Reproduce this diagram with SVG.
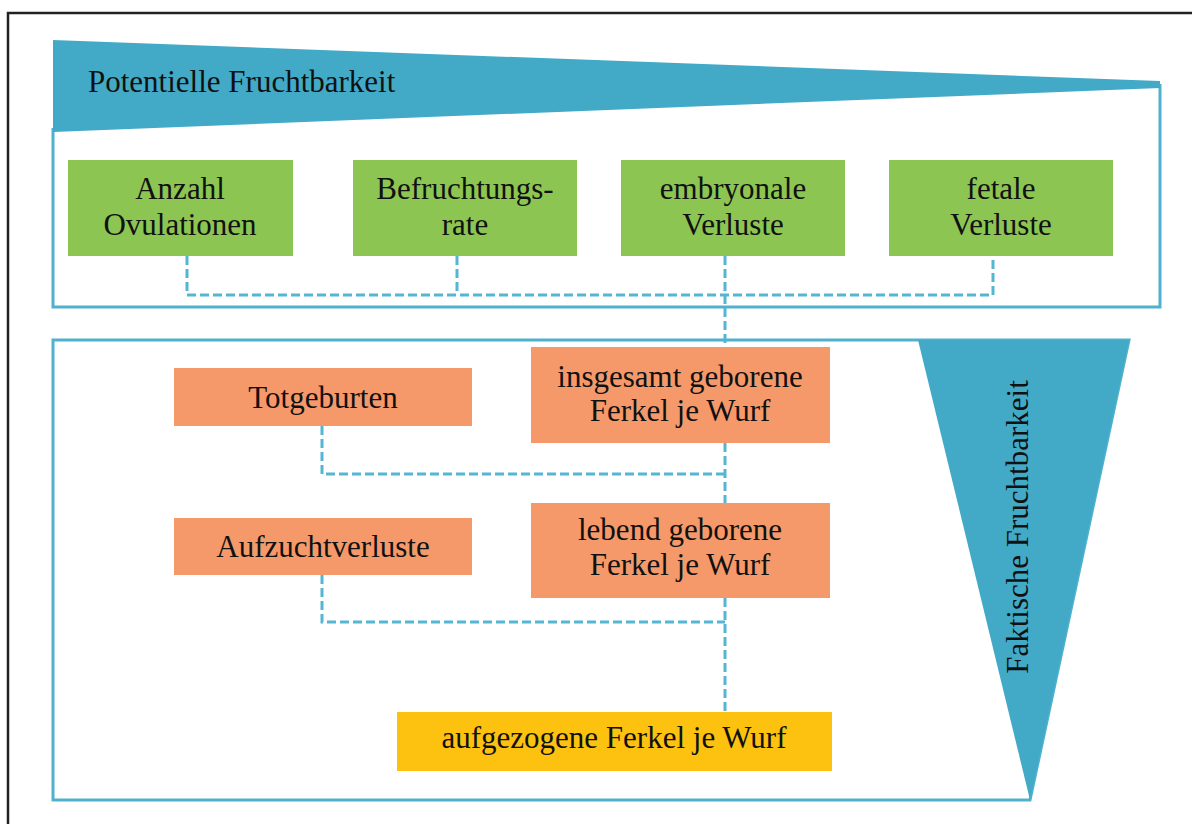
<svg xmlns="http://www.w3.org/2000/svg" width="1192" height="824" viewBox="0 0 1192 824">
<style>
text{font-family:"Liberation Serif","Times New Roman",serif;font-size:31px;fill:#111;text-anchor:middle}
.frame{fill:none;stroke:#4FB1CE;stroke-width:3}
.band{fill:#42AAC7}
.green{fill:#8CC552}
.orange{fill:#F5996A}
.yellow{fill:#FDC210}
.conn path{fill:none;stroke:#55B5D2;stroke-width:3;stroke-dasharray:9 4}
</style>
<rect x="0" y="0" width="1192" height="824" fill="#fff"/>
<path d="M8,830 L8,13 L1200,13" fill="none" stroke="#222" stroke-width="2.5"/>

<g id="top-frame">
<path class="frame" d="M1160,84 L1160,307 L53,307 L53,128"/>
<polygon class="band" points="53,40 1160,81 1160,88 53,132"/>
<text x="88" y="92" style="text-anchor:start">Potentielle Fruchtbarkeit</text>
</g>

<g id="bottom-frame">
<polygon class="frame" points="53,340 1129,340 1030,800 53,800"/>
<polygon class="band" points="918,340 1129,340 1030,800"/>
<text transform="translate(1028,527) rotate(-90)" x="0" y="0">Faktische Fruchtbarkeit</text>
</g>

<g class="conn" id="connectors">
<path d="M187,256 L187,295 L993,295 L993,256"/>
<path d="M457,256 L457,295"/>
<path d="M725,256 L725,347"/>
<path d="M322,426 L322,474 L725,474"/>
<path d="M725,443 L725,503"/>
<path d="M322,575 L322,622 L725,622"/>
<path d="M725,598 L725,712"/>
</g>

<g id="anzahl">
<rect class="green" x="68" y="160" width="225" height="96"/>
<text x="180" y="199">Anzahl</text>
<text x="180" y="235">Ovulationen</text>
</g>
<g id="befruchtung">
<rect class="green" x="353" y="160" width="224" height="96"/>
<text x="465" y="199">Befruchtungs-</text>
<text x="465" y="235">rate</text>
</g>
<g id="embryonal">
<rect class="green" x="621" y="160" width="224" height="96"/>
<text x="733" y="199">embryonale</text>
<text x="733" y="235">Verluste</text>
</g>
<g id="fetal">
<rect class="green" x="889" y="160" width="224" height="96"/>
<text x="1001" y="199">fetale</text>
<text x="1001" y="235">Verluste</text>
</g>

<g id="totgeburten">
<rect class="orange" x="174" y="368" width="298" height="58"/>
<text x="323" y="408">Totgeburten</text>
</g>
<g id="insgesamt">
<rect class="orange" x="531" y="347" width="299" height="96"/>
<text x="680" y="387">insgesamt geborene</text>
<text x="680" y="421">Ferkel je Wurf</text>
</g>
<g id="aufzucht">
<rect class="orange" x="174" y="518" width="298" height="57"/>
<text x="323" y="557">Aufzuchtverluste</text>
</g>
<g id="lebend">
<rect class="orange" x="531" y="503" width="299" height="95"/>
<text x="680" y="540">lebend geborene</text>
<text x="680" y="575">Ferkel je Wurf</text>
</g>
<g id="aufgezogen">
<rect class="yellow" x="397" y="712" width="435" height="59"/>
<text x="614" y="748">aufgezogene Ferkel je Wurf</text>
</g>
</svg>
